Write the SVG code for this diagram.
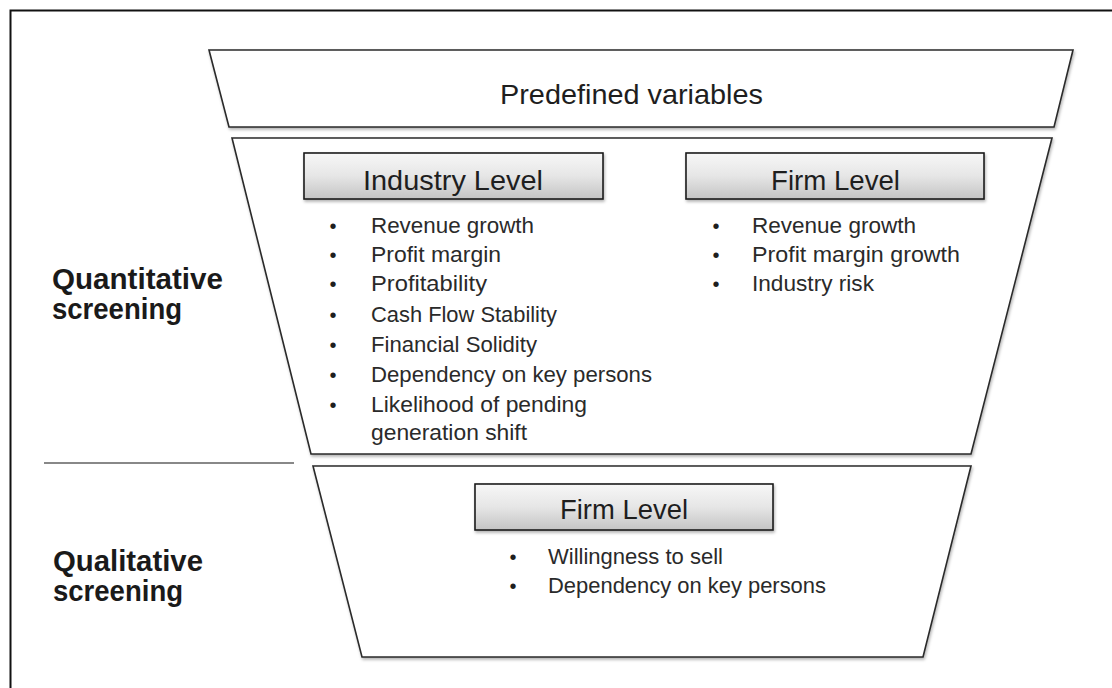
<svg xmlns="http://www.w3.org/2000/svg" width="1112" height="688" viewBox="0 0 1112 688">
  <defs>
    <linearGradient id="boxGrad" x1="0" y1="0" x2="0" y2="1">
      <stop offset="0" stop-color="#f7f7f7"/>
      <stop offset="0.5" stop-color="#e6e6e6"/>
      <stop offset="1" stop-color="#c4c4c4"/>
    </linearGradient>
    <filter id="shadow" x="-5%" y="-5%" width="110%" height="120%">
      <feDropShadow dx="1" dy="2" stdDeviation="1.5" flood-color="#000" flood-opacity="0.3"/>
    </filter>
    <style>
      .trap { fill: #ffffff; stroke: #2a2a2a; stroke-width: 1.6; filter: url(#shadow); }
      .box { fill: url(#boxGrad); stroke: #1c1c1c; stroke-width: 1.6; filter: url(#shadow); }
      .title { font-family: "Liberation Sans", Arial, sans-serif; font-size: 28px; fill: #1e1e1e; }
      .item { font-family: "Liberation Sans", Arial, sans-serif; font-size: 22px; fill: #2a2a2a; }
      .bullet { font-family: "Liberation Sans", Arial, sans-serif; font-size: 20px; fill: #1e1e1e; text-anchor: middle; }
      .label { font-family: "Liberation Sans", Arial, sans-serif; font-size: 29px; font-weight: bold; fill: #1a1a1a; }
    </style>
  </defs>
  <rect x="0" y="0" width="1112" height="688" fill="#ffffff"/>
  <g id="frame">
    <rect x="10.5" y="10.5" width="1110" height="700" fill="none" stroke="#111" stroke-width="2"/>
  </g>

  <g id="funnel-predefined">
    <polygon class="trap" points="209,50 1073,50 1054,127 229,127"/>
    <text class="title" x="500" y="104" textLength="263" lengthAdjust="spacingAndGlyphs">Predefined variables</text>
  </g>

  <g id="funnel-quantitative">
    <polygon class="trap" points="232,138 1052,138 971,454 311,454"/>
  </g>

  <g id="funnel-qualitative">
    <polygon class="trap" points="313,466 971,466 923,657 362,657"/>
  </g>

  <g id="separator">
    <line x1="44" y1="463" x2="294" y2="463" stroke="#888" stroke-width="2"/>
  </g>

  <g id="label-quantitative">
    <text class="label" x="52" y="289" textLength="171" lengthAdjust="spacingAndGlyphs">Quantitative</text>
    <text class="label" x="52" y="319" textLength="130" lengthAdjust="spacingAndGlyphs">screening</text>
  </g>

  <g id="label-qualitative">
    <text class="label" x="53" y="571" textLength="150" lengthAdjust="spacingAndGlyphs">Qualitative</text>
    <text class="label" x="53" y="601" textLength="130" lengthAdjust="spacingAndGlyphs">screening</text>
  </g>

  <g id="box-industry-level">
    <rect class="box" x="304" y="153" width="299" height="46"/>
    <text class="title" x="363" y="190" textLength="180" lengthAdjust="spacingAndGlyphs">Industry Level</text>
  </g>

  <g id="list-industry-level">
    <text class="bullet" x="333" y="233">•</text>
    <text class="item" x="371" y="233" textLength="163" lengthAdjust="spacingAndGlyphs">Revenue growth</text>
    <text class="bullet" x="333" y="262">•</text>
    <text class="item" x="371" y="262" textLength="130" lengthAdjust="spacingAndGlyphs">Profit margin</text>
    <text class="bullet" x="333" y="291">•</text>
    <text class="item" x="371" y="291" textLength="116" lengthAdjust="spacingAndGlyphs">Profitability</text>
    <text class="bullet" x="333" y="322">•</text>
    <text class="item" x="371" y="322" textLength="186" lengthAdjust="spacingAndGlyphs">Cash Flow Stability</text>
    <text class="bullet" x="333" y="352">•</text>
    <text class="item" x="371" y="352" textLength="166" lengthAdjust="spacingAndGlyphs">Financial Solidity</text>
    <text class="bullet" x="333" y="382">•</text>
    <text class="item" x="371" y="382" textLength="281" lengthAdjust="spacingAndGlyphs">Dependency on key persons</text>
    <text class="bullet" x="333" y="412">•</text>
    <text class="item" x="371" y="412" textLength="216" lengthAdjust="spacingAndGlyphs">Likelihood of pending</text>
    <text class="item" x="371" y="440" textLength="156" lengthAdjust="spacingAndGlyphs">generation shift</text>
  </g>

  <g id="box-firm-level-quantitative">
    <rect class="box" x="686" y="153" width="298" height="46"/>
    <text class="title" x="771" y="190" textLength="129" lengthAdjust="spacingAndGlyphs">Firm Level</text>
  </g>

  <g id="list-firm-level-quantitative">
    <text class="bullet" x="716" y="233">•</text>
    <text class="item" x="752" y="233" textLength="164" lengthAdjust="spacingAndGlyphs">Revenue growth</text>
    <text class="bullet" x="716" y="262">•</text>
    <text class="item" x="752" y="262" textLength="208" lengthAdjust="spacingAndGlyphs">Profit margin growth</text>
    <text class="bullet" x="716" y="291">•</text>
    <text class="item" x="752" y="291" textLength="122" lengthAdjust="spacingAndGlyphs">Industry risk</text>
  </g>

  <g id="box-firm-level-qualitative">
    <rect class="box" x="475" y="484" width="298" height="46"/>
    <text class="title" x="560" y="519" textLength="128" lengthAdjust="spacingAndGlyphs">Firm Level</text>
  </g>

  <g id="list-firm-level-qualitative">
    <text class="bullet" x="513" y="564">•</text>
    <text class="item" x="548" y="564" textLength="175" lengthAdjust="spacingAndGlyphs">Willingness to sell</text>
    <text class="bullet" x="513" y="593">•</text>
    <text class="item" x="548" y="593" textLength="278" lengthAdjust="spacingAndGlyphs">Dependency on key persons</text>
  </g>
</svg>
